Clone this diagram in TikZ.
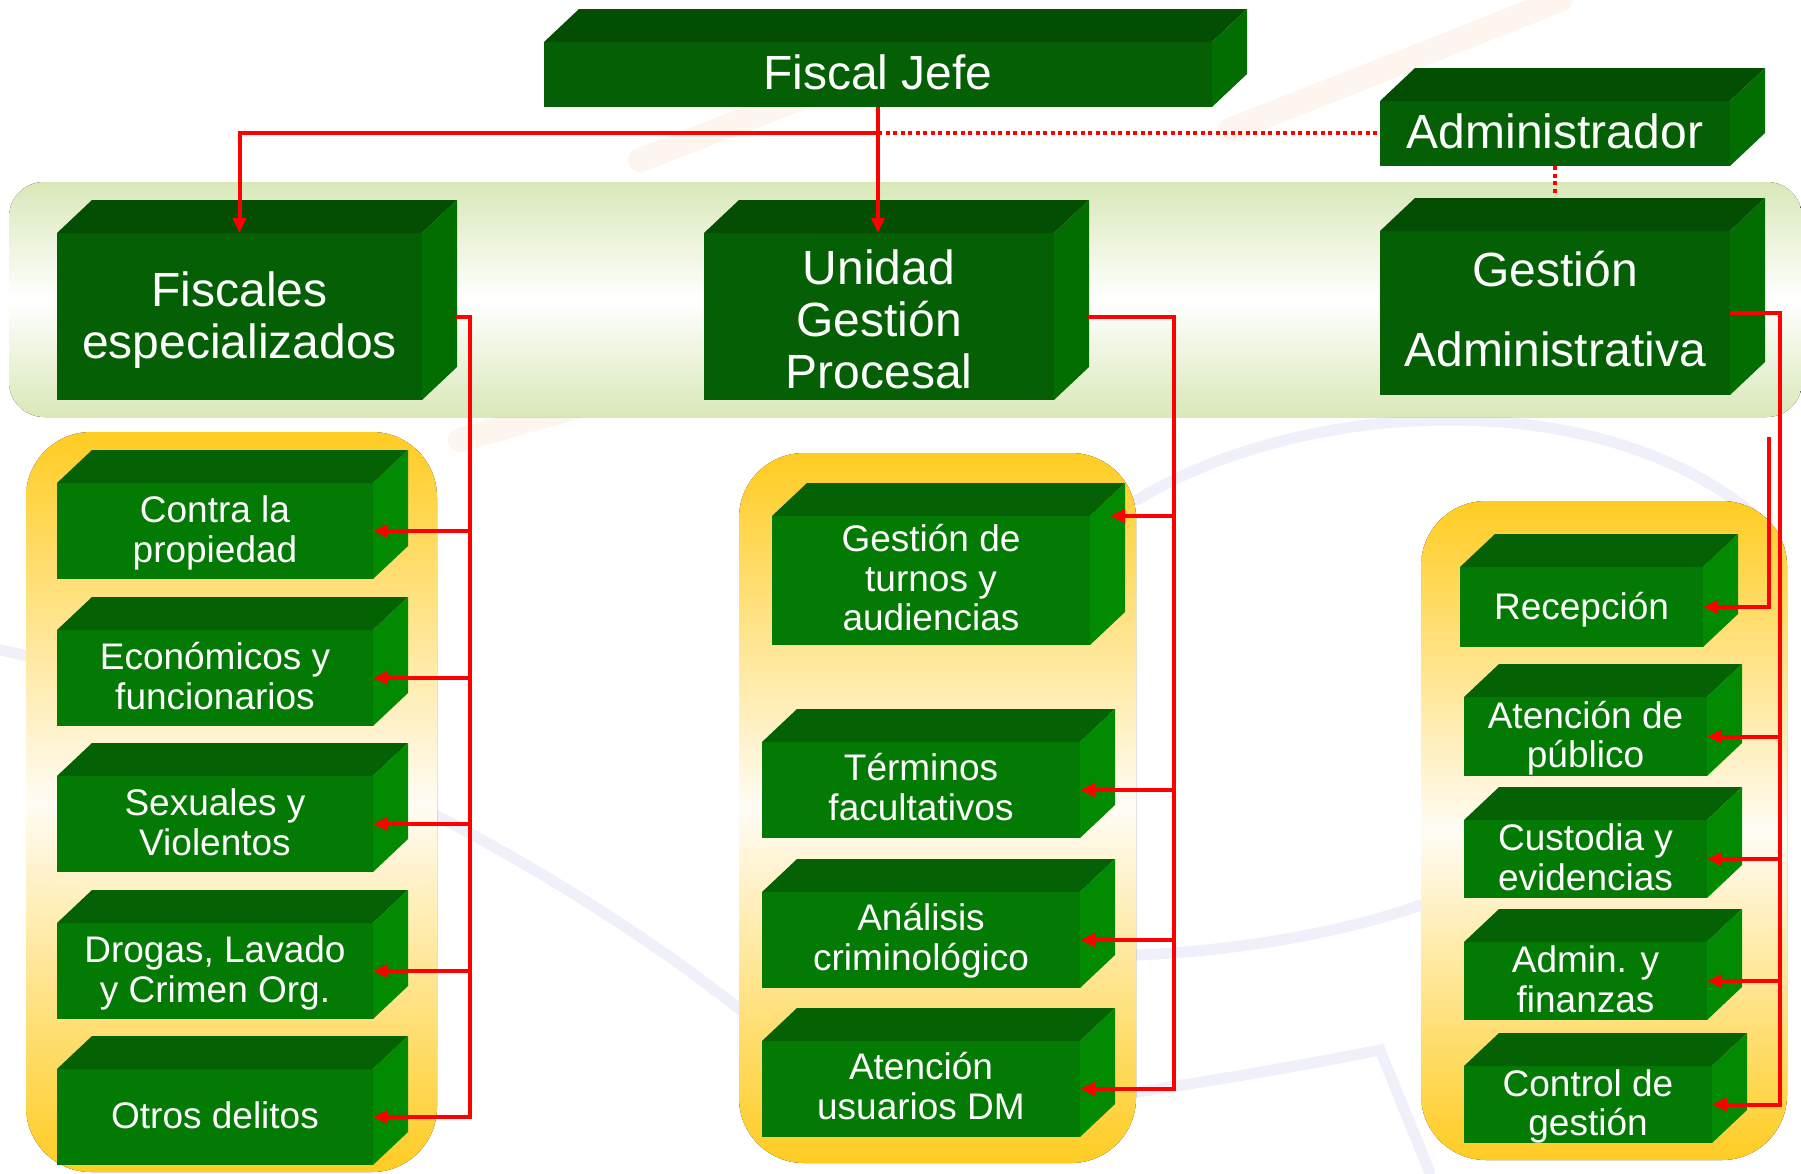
\documentclass[tikz,border=0pt]{standalone}
\usepackage{fontspec}
\setmainfont{Liberation Sans}
\usetikzlibrary{calc,arrows.meta}
\definecolor{Tfront}{RGB}{5,96,5}
\definecolor{Ttop}{RGB}{4,78,4}
\definecolor{Tside}{RGB}{2,110,2}
\definecolor{Cfront}{RGB}{3,122,3}
\definecolor{Ctop}{RGB}{4,98,4}
\definecolor{Cside}{RGB}{2,138,2}
\definecolor{Gband}{RGB}{217,232,185}
\definecolor{Ygold}{RGB}{255,204,34}
\definecolor{Ypale}{RGB}{255,252,245}
\definecolor{wmLav}{RGB}{240,240,251}
\definecolor{wmOra}{RGB}{254,245,238}
\newcommand\cubebox[8]{%
  \node[face, fill=#6front, minimum width=#4pt, minimum height=#5pt] (#1) at (#2+#4/2,#3+#5/2) {};
  \fill[#6top] (#1.north west) -- ++(35,-33) -- ($(#1.north east)+(35,-33)$) -- (#1.north east) -- cycle;
  \fill[#6side] (#1.north east) -- ++(35,-33) -- ($(#1.south east)+(35,-33)$) -- (#1.south east) -- cycle;
  \node[lbl#6] (#1-t) at ($(#1.center)+(0,#7)$) {#8};
}
\begin{document}
\begin{tikzpicture}[x=1pt,y=-1pt,
  face/.style={draw=none, inner sep=0pt, outer sep=0pt, rectangle},
  lblT/.style={text=white, align=center, inner sep=0pt, font=\fontsize{48}{52}\selectfont,
    execute at begin node=\strut, execute at end node=\strut},
  lblC/.style={text=white, align=center, inner sep=0pt, font=\fontsize{37}{39.5}\selectfont,
    execute at begin node=\strut, execute at end node=\strut},
  conn/.style={draw=red, line width=4pt},
  arr/.style={-{Triangle[length=15pt,width=13pt]}},
  dotline/.style={draw=red, line width=3.5pt, dash pattern=on 4pt off 3.5pt},
  wm/.style={draw=wmLav, line width=11pt, line cap=round},
  wmo/.style={draw=wmOra, line width=24pt, line cap=round}]
\useasboundingbox (0,0) rectangle (1801,1173);
\fill[white] (0,0) rectangle (1801,1173);
% faint watermark
\draw[wm] (0,650) .. controls (250,700) and (600,880) .. (800,1060);
\draw[wm] (1137,500) .. controls (1300,400) and (1600,380) .. (1760,520);
\draw[wm] (1137,955) .. controls (1250,950) and (1350,930) .. (1421,905);
\draw[wm] (1137,1092) .. controls (1250,1075) and (1330,1060) .. (1380,1050) -- (1430,1173);
\draw[wmo] (1230,130) -- (1560,0);
\draw[wmo] (640,160) -- (900,60);
\draw[wmo] (460,440) -- (600,400);
% panels
\fill[top color=Gband, bottom color=Gband, middle color=white, rounded corners=35pt] (9,182) rectangle (1802,417);
\fill[top color=Ygold, bottom color=Ygold, middle color=Ypale, rounded corners=65pt] (26,432) rectangle (437,1172);
\fill[top color=Ygold, bottom color=Ygold, middle color=Ypale, rounded corners=65pt] (739,453) rectangle (1136,1163);
\fill[top color=Ygold, bottom color=Ygold, middle color=Ypale, rounded corners=65pt] (1421,501) rectangle (1787,1160);
% top-level boxes
\cubebox{FJ}{544}{42}{668}{65}{T}{5}{Fiscal Jefe}
\cubebox{ADM}{1380}{101}{350}{65}{T}{5}{Administrador}
\cubebox{FE}{57}{233}{365}{167}{T}{6}{Fiscales\\especializados}
\cubebox{UGP}{704}{233}{350}{167}{T}{10}{Unidad\\Gestión\\Procesal}
\cubebox{GA}{1380}{231}{350}{164}{T}{4}{Gestión\\[28pt]Administrativa}
% left column
\cubebox{C1}{57}{483}{316}{96}{C}{4}{Contra la\\propiedad}
\cubebox{C2}{57}{630}{316}{96}{C}{4}{Económicos y\\funcionarios}
\cubebox{C3}{57}{776}{316}{96}{C}{4}{Sexuales y\\Violentos}
\cubebox{C4}{57}{923}{316}{96}{C}{4}{Drogas, Lavado\\y Crimen Org.}
\cubebox{C5}{57}{1069}{316}{96}{C}{4}{Otros delitos}
% middle column
\cubebox{M1}{772}{516}{318}{129}{C}{3}{Gestión de\\turnos y\\audiencias}
\cubebox{M2}{762}{742}{318}{96}{C}{3}{Términos\\facultativos}
\cubebox{M3}{762}{892}{318}{96}{C}{3}{Análisis\\criminológico}
\cubebox{M4}{762}{1041}{318}{96}{C}{3}{Atención\\usuarios DM}
% right column
\cubebox{R1}{1460}{567}{243}{80}{C}{5}{Recepción}
\cubebox{R2}{1464}{697}{243}{79}{C}{4}{Atención de\\público}
\cubebox{R3}{1464}{820}{243}{78}{C}{4}{Custodia y\\evidencias}
\cubebox{R4}{1464}{942}{243}{78}{C}{4}{Admin. y\\finanzas}
\cubebox{R5}{1464}{1066}{248}{77}{C}{4}{Control de\\gestión}
% connectors
\coordinate (h133) at (0,133);
\coordinate (j1) at (FJ.south |- h133);
\coordinate (busL) at (470,0);
\coordinate (busM) at (1174,0);
\coordinate (busR) at (1780,0);
\coordinate (rs) at (1769,437);
\draw[dotline] (j1) -- (ADM.west |- j1);
\draw[dotline] (ADM.south) -- ++(0,30);
\draw[conn,arr] (FJ.south) -- (FJ.south |- UGP.north);
\draw[conn,arr] (j1) -| (FE.north);
\draw[conn,arr] ($(FE.east)+(34,0)$) -| (busL |- C5.east) -- (C5.east);
\foreach \c in {C1,C2,C3,C4} \draw[conn,arr] (busL |- \c.east) -- (\c.east);
\draw[conn,arr] ($(UGP.east)+(34,0)$) -| (busM |- M4.east) -- (M4.east);
\draw[conn,arr] (busM |- M1.north east) -- ($(M1.north east)+(20,0)$);
\foreach \c in {M2,M3} \draw[conn,arr] (busM |- \c.east) -- (\c.east);
\draw[conn,arr] (GA.east) -| (busR |- R5.east) -- (R5.east);
\foreach \c in {R2,R3,R4} \draw[conn,arr] (busR |- \c.east) -- (\c.east);
\draw[conn,arr] (rs) |- (R1.east);
\end{tikzpicture}
\end{document}
